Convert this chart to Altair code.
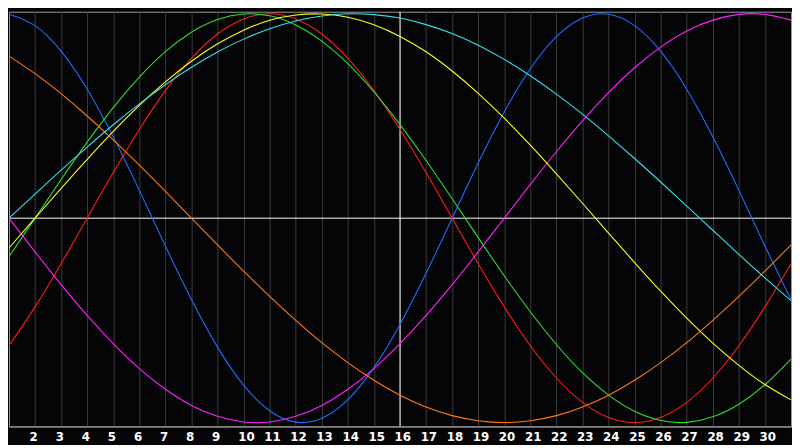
import altair as alt
import pandas as pd

# Days of the month (x positions)
days = list(range(1, 32))
label_days = list(range(2, 31))

# Values, one per day (range -1 .. 1)
physical = [0.998, 0.942, 0.817, 0.631, 0.398, 0.136, -0.136, -0.398, -0.631, -0.817,
            -0.942, -0.998, -0.979, -0.888, -0.731, -0.520, -0.270, 0.0, 0.270, 0.520,
            0.731, 0.888, 0.979, 0.998, 0.942, 0.817, 0.631, 0.398, 0.136, -0.136, -0.398]
emotional = [-0.624, -0.434, -0.223, 0.0, 0.223, 0.434, 0.624, 0.782, 0.901, 0.975,
             1.0, 0.975, 0.901, 0.782, 0.624, 0.434, 0.223, 0.0, -0.223, -0.434,
             -0.624, -0.782, -0.901, -0.975, -1.0, -0.975, -0.901, -0.782, -0.624, -0.434, -0.223]
intellectual = [-0.189, 0.0, 0.189, 0.372, 0.541, 0.690, 0.815, 0.910, 0.972, 0.999,
                0.990, 0.945, 0.866, 0.756, 0.618, 0.458, 0.282, 0.095, -0.095, -0.282,
                -0.458, -0.618, -0.756, -0.866, -0.945, -0.990, -0.999, -0.972, -0.910, -0.815, -0.690]
intuitive = [0.0, -0.165, -0.325, -0.476, -0.614, -0.736, -0.837, -0.916, -0.969, -0.997,
             -0.997, -0.969, -0.916, -0.837, -0.736, -0.614, -0.476, -0.325, -0.165, 0.0,
             0.165, 0.325, 0.476, 0.614, 0.736, 0.837, 0.916, 0.969, 0.997, 0.997, 0.969]
aesthetic = [-0.146, 0.0, 0.146, 0.288, 0.425, 0.552, 0.667, 0.768, 0.853, 0.920,
             0.968, 0.994, 0.999, 0.983, 0.946, 0.889, 0.814, 0.720, 0.611, 0.489,
             0.357, 0.217, 0.073, -0.073, -0.217, -0.357, -0.489, -0.611, -0.720, -0.814, -0.889]
awareness = [0.793, 0.707, 0.609, 0.500, 0.383, 0.259, 0.131, 0.0, -0.131, -0.259,
             -0.383, -0.500, -0.609, -0.707, -0.793, -0.866, -0.924, -0.966, -0.991, -1.0,
             -0.991, -0.966, -0.924, -0.866, -0.793, -0.707, -0.609, -0.500, -0.383, -0.259, -0.131]
spiritual = [0.0, 0.118, 0.235, 0.348, 0.457, 0.559, 0.653, 0.738, 0.813, 0.876,
             0.927, 0.965, 0.989, 1.0, 0.996, 0.979, 0.947, 0.903, 0.846, 0.777,
             0.697, 0.607, 0.509, 0.403, 0.292, 0.177, 0.059, -0.059, -0.177, -0.292, -0.403]

series_names = ["Physical", "Emotional", "Intellectual", "Intuitive",
                "Aesthetic", "Awareness", "Spiritual"]
series_values = [physical, emotional, intellectual, intuitive,
                 aesthetic, awareness, spiritual]
series_colors = ["#1f6dff", "#ff1c1c", "#2fdc2f", "#ff20ff",
                 "#ffff20", "#ff7a12", "#35e0e8"]

zero_level = [0]
today = [16]

rows = []
for name, vals in zip(series_names, series_values):
    for d, v in zip(days, vals):
        rows.append({"day": d, "value": v, "series": name})
df = pd.DataFrame(rows)

x_scale = alt.Scale(domain=[1, 31], nice=False, zero=False)
y_scale = alt.Scale(domain=[-1.019, 1.01], nice=False, zero=False)
x_axis = alt.Axis(values=label_days, title=None)

hline = alt.Chart(pd.DataFrame({"value": zero_level})).mark_rule(
    color="#ffffff", strokeWidth=1
).encode(y=alt.Y("value:Q", scale=y_scale, axis=None))

vline = alt.Chart(pd.DataFrame({"day": today})).mark_rule(
    color="#ffffff", strokeWidth=1
).encode(x=alt.X("day:Q", scale=x_scale, axis=x_axis))

lines = alt.Chart(df).mark_line(
    strokeWidth=1.1, interpolate="natural", clip=True
).encode(
    x=alt.X("day:Q", scale=x_scale, axis=x_axis),
    y=alt.Y("value:Q", scale=y_scale, axis=None),
    color=alt.Color("series:N", scale=alt.Scale(domain=series_names, range=series_colors),
                    legend=None),
)

chart = alt.layer(hline, vline, lines).properties(
    width=792, height=420, padding=0
).configure(
    background="#050507"
).configure_view(
    stroke="#9a9a9a", strokeWidth=1, fill="#050507"
).configure_axisX(
    domainColor="#a0a0a0", domainWidth=1,
    grid=True, gridColor="#3c3c3c", gridWidth=1,
    ticks=False, labelPadding=5,
    labelColor="#ffffff", labelFont="DejaVu Sans", labelFontWeight="bold",
    labelFontSize=12, labelAlign="left", labelOffset=-6,
    labelFlush=False, labelOverlap=False,
)

chart.save("out.html", embed_options={"renderer": "svg", "actions": False})
